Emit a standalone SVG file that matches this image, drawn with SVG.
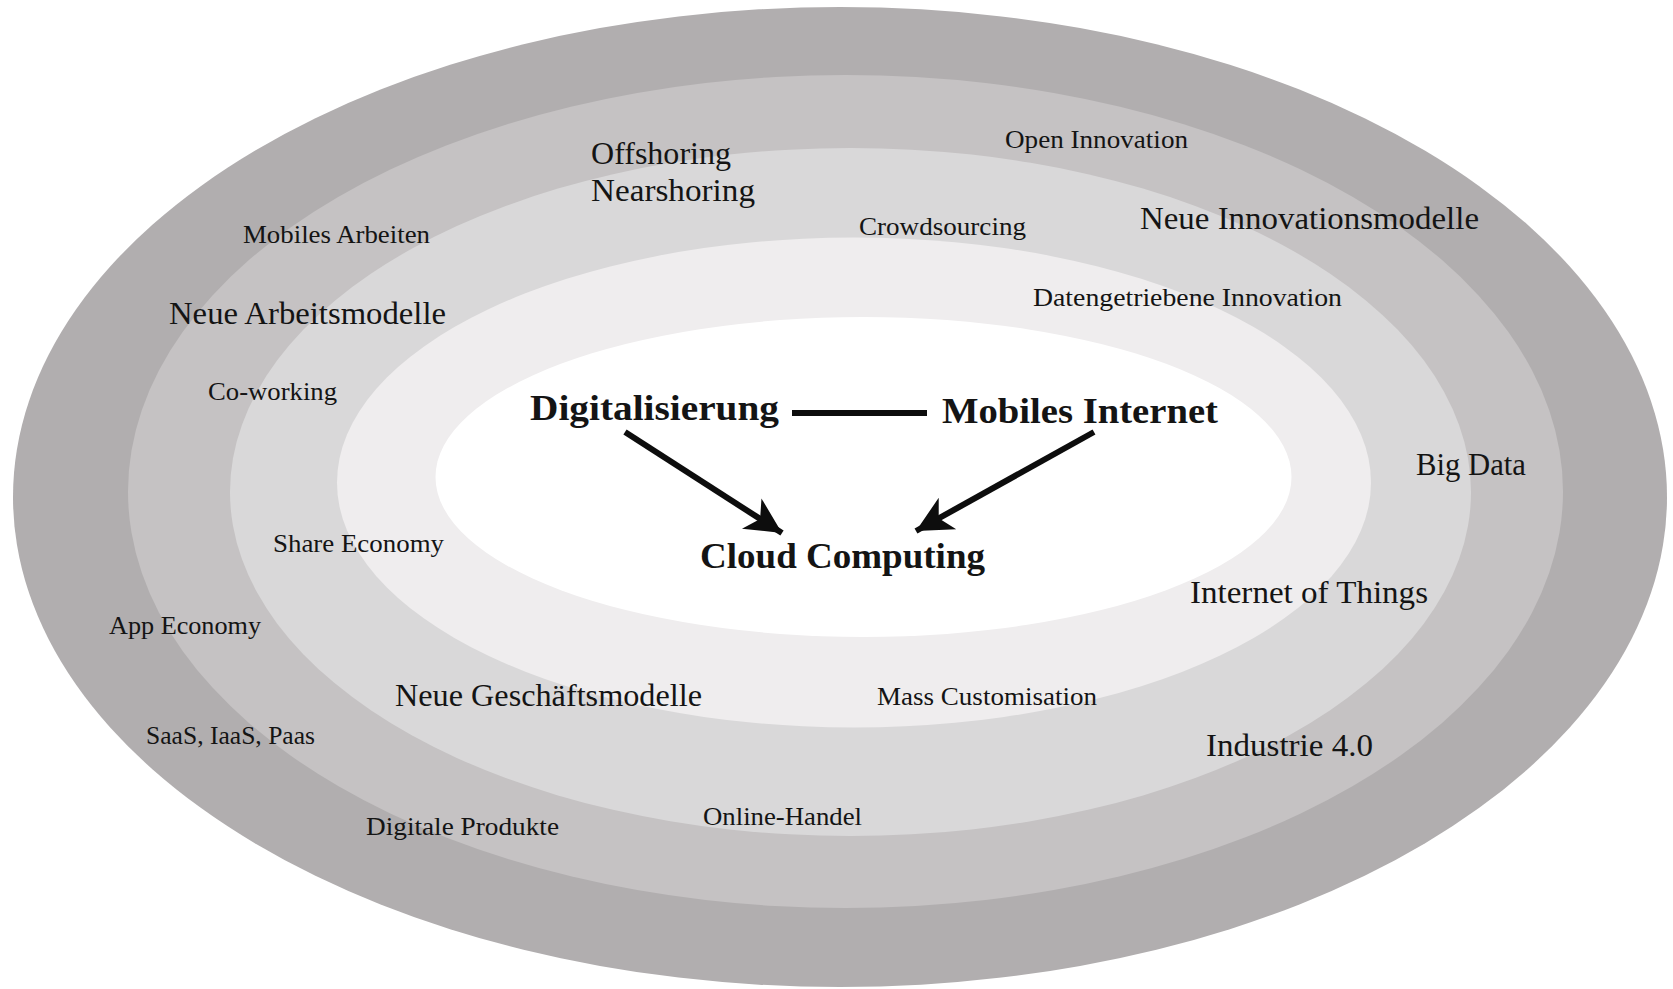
<svg xmlns="http://www.w3.org/2000/svg" width="1673" height="989" viewBox="0 0 1673 989">
<style>
  text { font-family: "Liberation Serif", "DejaVu Serif", serif; fill: #141414; }
  .s { font-size: 25px; }
  .l { font-size: 31px; }
  .b { font-size: 36px; font-weight: bold; }
  .conn { stroke: #0d0d0d; stroke-width: 6; fill: none; }
</style>
<defs>
  <marker id="ah" markerUnits="userSpaceOnUse" markerWidth="44" markerHeight="44" viewBox="-40 -22 44 44" refX="0" refY="0" orient="auto">
    <path d="M0,0 L-36,-18 L-26,0 L-36,18 Z" fill="#0d0d0d"/>
  </marker>
</defs>
<rect width="1673" height="989" fill="#ffffff"/>
<g id="rings">
  <ellipse cx="840" cy="497" rx="827" ry="490" fill="#b1aeaf"/>
  <ellipse cx="845.5" cy="491.5" rx="717.5" ry="416.5" fill="#c5c2c3"/>
  <ellipse cx="850.5" cy="492" rx="620.5" ry="344" fill="#d9d8d9"/>
  <ellipse cx="854" cy="482.5" rx="517" ry="245" fill="#efedee"/>
  <ellipse cx="863.5" cy="477" rx="428" ry="160" fill="#ffffff"/>
</g>
<g id="connectors">
  <line class="conn" x1="792" y1="413" x2="927" y2="413" stroke-width="5"/>
  <line class="conn" x1="625" y1="432" x2="782" y2="533" marker-end="url(#ah)"/>
  <line class="conn" x1="1094" y1="432" x2="916" y2="531" marker-end="url(#ah)"/>
</g>
<g id="node-digitalisierung"><text class="b" x="530" y="420" textLength="249" lengthAdjust="spacingAndGlyphs">Digitalisierung</text></g>
<g id="node-mobiles-internet"><text class="b" x="942" y="423" textLength="276" lengthAdjust="spacingAndGlyphs">Mobiles Internet</text></g>
<g id="node-cloud-computing"><text class="b" x="700" y="568" textLength="285" lengthAdjust="spacingAndGlyphs">Cloud Computing</text></g>

<g id="label-open-innovation"><text class="s" x="1005" y="148" textLength="183" lengthAdjust="spacingAndGlyphs">Open Innovation</text></g>
<g id="label-offshoring"><text class="l" x="591" y="164" textLength="140" lengthAdjust="spacingAndGlyphs">Offshoring</text></g>
<g id="label-nearshoring"><text class="l" x="591" y="201" textLength="164" lengthAdjust="spacingAndGlyphs">Nearshoring</text></g>
<g id="label-crowdsourcing"><text class="s" x="859" y="235" textLength="167" lengthAdjust="spacingAndGlyphs">Crowdsourcing</text></g>
<g id="label-neue-innovationsmodelle"><text class="l" x="1140" y="229" textLength="339" lengthAdjust="spacingAndGlyphs">Neue Innovationsmodelle</text></g>
<g id="label-mobiles-arbeiten"><text class="s" x="243" y="243" textLength="187" lengthAdjust="spacingAndGlyphs">Mobiles Arbeiten</text></g>
<g id="label-neue-arbeitsmodelle"><text class="l" x="169" y="324" textLength="277" lengthAdjust="spacingAndGlyphs">Neue Arbeitsmodelle</text></g>
<g id="label-datengetriebene-innovation"><text class="s" x="1033" y="306" textLength="309" lengthAdjust="spacingAndGlyphs">Datengetriebene Innovation</text></g>
<g id="label-co-working"><text class="s" x="208" y="400" textLength="129" lengthAdjust="spacingAndGlyphs">Co-working</text></g>
<g id="label-big-data"><text class="l" x="1416" y="475" textLength="110" lengthAdjust="spacingAndGlyphs">Big Data</text></g>
<g id="label-share-economy"><text class="s" x="273" y="552" textLength="171" lengthAdjust="spacingAndGlyphs">Share Economy</text></g>
<g id="label-internet-of-things"><text class="l" x="1190" y="603" textLength="238" lengthAdjust="spacingAndGlyphs">Internet of Things</text></g>
<g id="label-app-economy"><text class="s" x="109" y="634" textLength="152" lengthAdjust="spacingAndGlyphs">App Economy</text></g>
<g id="label-neue-geschaeftsmodelle"><text class="l" x="395" y="706" textLength="307" lengthAdjust="spacingAndGlyphs">Neue Geschäftsmodelle</text></g>
<g id="label-mass-customisation"><text class="s" x="877" y="705" textLength="220" lengthAdjust="spacingAndGlyphs">Mass Customisation</text></g>
<g id="label-saas"><text class="s" x="146" y="744" textLength="169" lengthAdjust="spacingAndGlyphs">SaaS, IaaS, Paas</text></g>
<g id="label-industrie"><text class="l" x="1206" y="756" textLength="167" lengthAdjust="spacingAndGlyphs">Industrie 4.0</text></g>
<g id="label-digitale-produkte"><text class="s" x="366" y="835" textLength="193" lengthAdjust="spacingAndGlyphs">Digitale Produkte</text></g>
<g id="label-online-handel"><text class="s" x="703" y="825" textLength="159" lengthAdjust="spacingAndGlyphs">Online-Handel</text></g>
</svg>
